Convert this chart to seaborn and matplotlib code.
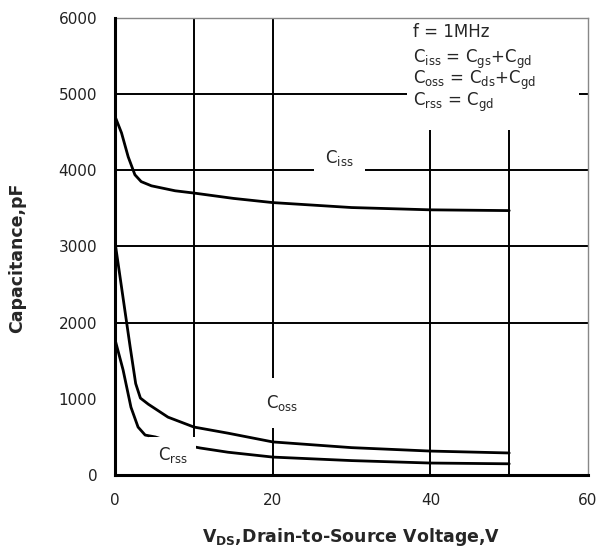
import matplotlib
matplotlib.use("Agg")
import pandas as pd
import matplotlib.pyplot as plt
import seaborn as sns
from matplotlib.patches import Rectangle

# === DATA ===
vds_iss = [0, 0.8, 1.65, 2.5, 3.3, 4.6, 7.6, 10, 15, 20, 30, 40, 50]
c_iss = [4700, 4490, 4175, 3940, 3850, 3795, 3730, 3700, 3630, 3575, 3510, 3480, 3470]

vds_oss = [0, 1.9, 2.6, 3.2, 4.2, 6.7, 10, 14.3, 20, 30, 40, 50]
c_oss = [3040, 1680, 1200, 1010, 930, 760, 630, 550, 435, 360, 315, 290]

vds_rss = [0, 1, 2, 2.9, 3.8, 5.1, 7.5, 10.8, 14.3, 20, 30, 40, 50]
c_rss = [1770, 1380, 890, 630, 525, 500, 420, 355, 300, 236, 190, 158, 148]

x_ticks = [0, 20, 40, 60]
y_ticks = [0, 1000, 2000, 3000, 4000, 5000, 6000]
x_grid = [10, 20, 40, 50]
y_grid = [2000, 3000, 4000, 5000]

df = pd.concat([
    pd.DataFrame({"Vds": vds_iss, "C": c_iss, "curve": "Ciss"}),
    pd.DataFrame({"Vds": vds_oss, "C": c_oss, "curve": "Coss"}),
    pd.DataFrame({"Vds": vds_rss, "C": c_rss, "curve": "Crss"}),
])

sns.set_style("white")
plt.rcParams["font.family"] = ["DejaVu Sans"]
plt.rcParams["mathtext.default"] = "regular"

fig = plt.figure(figsize=(6.0, 5.55), dpi=100, facecolor="white")
ax = fig.add_axes([0.192, 0.144, 0.788, 0.824])

sns.lineplot(data=df, x="Vds", y="C", units="curve", estimator=None,
             color="black", linewidth=2.0, ax=ax, zorder=3, sort=False)

ax.set_xlim(0, 60)
ax.set_ylim(0, 6000)
ax.set_xticks(x_ticks)
ax.set_yticks(y_ticks)
ax.set_xticklabels([str(v) for v in x_ticks])
ax.set_yticklabels([str(v) for v in y_ticks])
ax.tick_params(axis="both", length=0, labelsize=11, pad=13, colors="#222222")

# grid only where the datasheet draws it
for gx in x_grid:
    ax.axvline(gx, color="black", linewidth=1.4, zorder=1)
for gy in y_grid:
    ax.axhline(gy, color="black", linewidth=1.4, zorder=1)

for side in ["left", "bottom"]:
    ax.spines[side].set_color("black")
    ax.spines[side].set_linewidth(2.2)
    ax.spines[side].set_zorder(5)
for side in ["top", "right"]:
    ax.spines[side].set_color("#888888")
    ax.spines[side].set_linewidth(1.0)

ax.set_xlabel("$V_{DS}$,Drain-to-Source Voltage,V", fontsize=12.5, fontweight="bold")
ax.set_ylabel("Capacitance,pF", fontsize=12.5, fontweight="bold")
ax.xaxis.set_label_coords(0.50, -0.112)
ax.yaxis.set_label_coords(-0.188, 0.475)

# white patch behind the condition text
ax.add_patch(Rectangle((0.617, 0.755), 0.365, 0.243, transform=ax.transAxes,
                       facecolor="white", edgecolor="none", zorder=2))
ax.text(0.63, 0.969, "f = 1MHz", transform=ax.transAxes, fontsize=12, va="center", zorder=4)
ax.text(0.63, 0.910, "$C_{iss}$ = $C_{gs}$+$C_{gd}$", transform=ax.transAxes, fontsize=12, va="center", zorder=4)
ax.text(0.63, 0.862, "$C_{oss}$ = $C_{ds}$+$C_{gd}$", transform=ax.transAxes, fontsize=12, va="center", zorder=4)
ax.text(0.63, 0.815, "$C_{rss}$ = $C_{gd}$", transform=ax.transAxes, fontsize=12, va="center", zorder=4)

# curve labels with white boxes cutting the grid
ax.text(28.5, 4160, "$C_{iss}$", fontsize=12, ha="center", va="center",
        bbox=dict(facecolor="white", edgecolor="none", pad=8), zorder=4)
ax.text(21.2, 945, "$C_{oss}$", fontsize=12, ha="center", va="center",
        bbox=dict(facecolor="white", edgecolor="none", pad=11), zorder=4)
ax.text(7.3, 260, "$C_{rss}$", fontsize=12, ha="center", va="center",
        bbox=dict(facecolor="white", edgecolor="none", pad=6), zorder=4)

fig.savefig("out.png", dpi=100, facecolor="white")
